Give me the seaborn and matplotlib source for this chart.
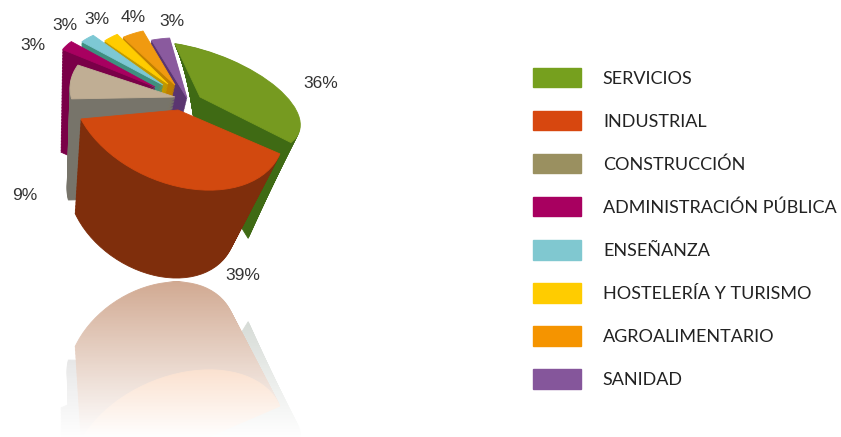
import numpy as np
import seaborn as sns
import matplotlib.pyplot as plt
from matplotlib.patches import Patch
from matplotlib.transforms import Affine2D

sectores = ["SERVICIOS", "INDUSTRIAL", "CONSTRUCCIÓN", "ADMINISTRACIÓN PÚBLICA",
            "ENSEÑANZA", "HOSTELERÍA Y TURISMO", "AGROALIMENTARIO", "SANIDAD"]
porcentajes = [36, 39, 9, 3, 3, 3, 4, 3]

col_top = ["#769a20", "#d2490f", "#c0ae94", "#a80060", "#7dc8d4", "#ffcc00", "#f09a10", "#8a5a9e"]
col_side = ["#3f6a14", "#7f2e0c", "#77746a", "#7a0048", "#3f8f80", "#c09a00", "#c08000", "#5a3570"]
col_legend = ["#76a01e", "#d7470f", "#9a9060", "#a80060", "#80c8d0", "#ffcc00", "#f59400", "#85569b"]
# colores del reflejo
ref_top = ["#809080", "#e86000", "#999999", "#999999", "#999999", "#999999", "#999999", "#999999"]
ref_side = ["#7f8f80", "#943700", "#8f8f8f", "#909090", "#909090", "#909090", "#909090", "#909090"]

# vista de cada porcion: apex x, apex y, a, b, c, d (circulo unidad -> pixeles)
vista = [
    (200, 97, 100, -8, -24, 50),
    (178, 110, 103, -25, -5, 80),
    (175, 97, 105, 0, -9, 62),
    (155, 87, 100, 0, -17, 57),
    (163, 85, 97, 0, -15, 56),
    (168, 84, 88, 0, -4, 58),
    (175, 85, 90, 0, -2, 57),
    (187, 98, 100, 0, -5, 60),
]
# extrusion de cada porcion: fuga x, escala x, escala y, desplazamiento y
fondo = [
    (200, 0.53, 1.7, -4),
    (53, 0.79, 0.91, 105),
    (53, 0.826, 0.91, 110),
    (53, 0.826, 0.91, 107),
    (53, 0.826, 0.91, 103),
    (53, 0.826, 0.91, 103),
    (53, 0.826, 0.91, 103),
    (53, 0.826, 0.91, 103),
]
# orden de pintado, de atras hacia delante
orden = [7, 6, 5, 4, 3, 2, 0, 1]
pos_pct = [(321, 83), (243, 276), (25, 195), (33, 46), (65, 25), (97, 20), (133, 17), (172, 22)]

sns.set_theme(style="white")
plt.rcParams["font.family"] = ["Liberation Sans", "DejaVu Sans"]

fig = plt.figure(figsize=(8.41, 4.37), dpi=100)
ax = fig.add_axes([0, 0, 1, 1])


def dibuja_capa(t, espejo, z0):
    if espejo:
        colores = ref_top if t == 0 else ref_side
    else:
        colores = col_top if t == 0 else col_side
    wedges, _ = ax.pie(porcentajes, startangle=100, counterclock=False, colors=sns.color_palette(colores),
                       wedgeprops={"linewidth": 0.6})
    for i, w in enumerate(wedges):
        cx, cy, a, b, c, d = vista[i]
        vx, sx, sy, dy = fondo[i]
        w.set_edgecolor(colores[i])
        m = Affine2D.from_values(a, -c, b, -d, cx, cy)
        m = m.translate(-vx, 0).scale(1 + (sx - 1) * t, 1 + (sy - 1) * t).translate(vx, dy * t)
        if espejo:
            m = m.scale(1, -1).translate(0, 560)
        w.set_transform(m + ax.transData)
        w.set_zorder(z0 + orden.index(i) + 1 - t * 0.9)


capas = np.linspace(0, 1, 70)
for z0, espejo in [(1, True), (20, False)]:
    for t in capas:
        dibuja_capa(t, espejo, z0)

# degradado blanco sobre el reflejo
alfa = np.interp(np.linspace(282, 437, 156), [282, 370, 437], [0.58, 0.82, 1.0])
grad = np.ones((156, 1, 4))
grad[:, 0, 3] = alfa
ax.imshow(grad, extent=(30, 330, 437, 282), aspect="auto", zorder=15)

ax.set_aspect("auto")
ax.set_xlim(0, 841)
ax.set_ylim(437, 0)
ax.axis("off")

for v, (x, y) in zip(porcentajes, pos_pct):
    ax.text(x, y, f"{v}%", ha="center", va="center", fontsize=12.5, color="#333333", zorder=40)

handles = [Patch(facecolor=c, edgecolor=c) for c in col_legend]
ax.legend(handles, sectores, loc="upper left", bbox_to_anchor=(0.634, 0.845), frameon=False,
          prop={"family": "Lato", "size": 13}, labelcolor="#222222", handlelength=2.66, handleheight=1.28,
          labelspacing=1.31, handletextpad=1.2, borderpad=0, borderaxespad=0)

fig.savefig("out.png", dpi=100)
